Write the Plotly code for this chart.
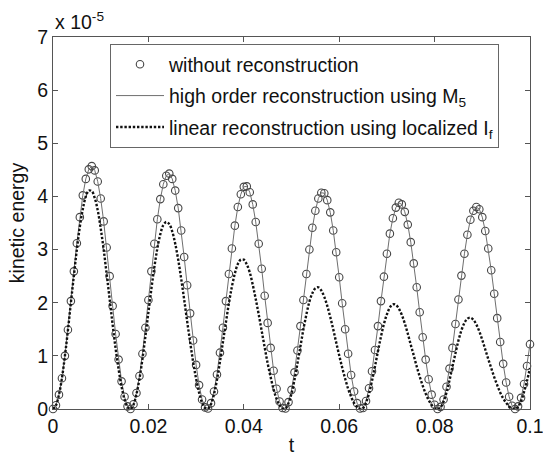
import numpy as np
import plotly.graph_objects as go

# time axis: uniform steps of 6.25e-4 from 0 to 0.1
t = np.linspace(0.0, 0.1, 161)

# kinetic energy in units of 1e-5, without reconstruction (circles)
ke_without = [
    0.00, 0.07, 0.27, 0.58, 1.00, 1.49, 2.03, 2.59, 3.12, 3.61, 4.02, 4.33, 4.51,
    4.57, 4.49, 4.28, 3.96, 3.53, 3.04, 2.50, 1.94, 1.41, 0.93, 0.52, 0.23, 0.05,
    0.00, 0.09, 0.30, 0.62, 1.04, 1.53, 2.05, 2.59, 3.11, 3.57, 3.95, 4.23, 4.39,
    4.43, 4.33, 4.11, 3.78, 3.36, 2.86, 2.33, 1.80, 1.29, 0.83, 0.45, 0.18, 0.03,
    0.01, 0.11, 0.33, 0.65, 1.06, 1.53, 2.03, 2.54, 3.02, 3.45, 3.80, 4.04, 4.18,
    4.19, 4.08, 3.85, 3.52, 3.11, 2.64, 2.13, 1.62, 1.15, 0.72, 0.38, 0.14, 0.02,
    0.01, 0.13, 0.36, 0.69, 1.10, 1.56, 2.05, 2.54, 3.00, 3.41, 3.73, 3.96, 4.07,
    4.06, 3.93, 3.70, 3.36, 2.95, 2.48, 1.99, 1.50, 1.04, 0.64, 0.33, 0.11, 0.01,
    0.02, 0.15, 0.39, 0.71, 1.11, 1.56, 2.03, 2.49, 2.92, 3.30, 3.59, 3.79, 3.88,
    3.85, 3.71, 3.47, 3.14, 2.74, 2.29, 1.82, 1.35, 0.93, 0.56, 0.27, 0.08, 0.00,
    0.04, 0.18, 0.42, 0.76, 1.15, 1.60, 2.06, 2.51, 2.92, 3.28, 3.56, 3.73, 3.80,
    3.76, 3.61, 3.35, 3.02, 2.61, 2.17, 1.71, 1.26, 0.85, 0.50, 0.23, 0.06, 0.00,
    0.05, 0.21, 0.47, 0.81, 1.22,
]

# high order reconstruction with M5: lies on the unreconstructed run at this scale
ke_high_order = list(ke_without)

# linear reconstruction with localized If (units of 1e-5)
ke_linear = [
    0.00, 0.07, 0.27, 0.58, 1.00, 1.48, 2.00, 2.51, 3.00, 3.43, 3.76, 4.00, 4.11,
    4.10, 3.97, 3.74, 3.40, 3.00, 2.54, 2.07, 1.59, 1.14, 0.75, 0.42, 0.18, 0.04,
    0.00, 0.08, 0.28, 0.57, 0.94, 1.37, 1.82, 2.26, 2.67, 3.02, 3.29, 3.46, 3.52,
    3.48, 3.34, 3.11, 2.81, 2.45, 2.06, 1.65, 1.26, 0.89, 0.57, 0.31, 0.12, 0.02,
    0.01, 0.09, 0.28, 0.55, 0.89, 1.26, 1.63, 1.99, 2.30, 2.55, 2.73, 2.81, 2.81,
    2.72, 2.57, 2.34, 2.07, 1.78, 1.47, 1.16, 0.86, 0.60, 0.37, 0.19, 0.07, 0.01,
    0.01, 0.11, 0.29, 0.55, 0.86, 1.18, 1.50, 1.78, 2.02, 2.18, 2.27, 2.29, 2.23,
    2.11, 1.94, 1.73, 1.50, 1.25, 1.01, 0.78, 0.57, 0.38, 0.23, 0.11, 0.04, 0.00,
    0.02, 0.12, 0.29, 0.53, 0.80, 1.09, 1.36, 1.60, 1.78, 1.91, 1.97, 1.96, 1.89,
    1.77, 1.61, 1.42, 1.21, 1.01, 0.80, 0.61, 0.44, 0.29, 0.17, 0.08, 0.02, 0.00,
    0.03, 0.14, 0.31, 0.54, 0.80, 1.05, 1.29, 1.48, 1.62, 1.70, 1.72, 1.68, 1.59,
    1.46, 1.30, 1.12, 0.94, 0.77, 0.60, 0.45, 0.31, 0.20, 0.12, 0.05, 0.01, 0.00,
    0.04, 0.15, 0.32, 0.53, 0.77,
]

x_ticks = [0, 0.02, 0.04, 0.06, 0.08, 0.1]
x_tick_labels = ["0", "0.02", "0.04", "0.06", "0.08", "0.1"]
y_ticks = [0, 1, 2, 3, 4, 5, 6, 7]
y_tick_labels = ["0", "1", "2", "3", "4", "5", "6", "7"]

FONT = "Liberation Sans, Arial, Helvetica, sans-serif"
TEXT = "#111111"
AXIS = "#555555"

fig = go.Figure()

fig.add_trace(go.Scatter(
    x=t, y=ke_without, mode="markers",
    name="without reconstruction", legendgroup="a",
    marker=dict(symbol="circle-open", size=7.5, color="#444444",
                line=dict(width=1.1, color="#444444")),
    cliponaxis=False,
))
fig.add_trace(go.Scatter(
    x=t, y=ke_high_order, mode="lines",
    name="high order reconstruction using M<sub>5</sub>", legendgroup="b",
    line=dict(color="#6e6e6e", width=1),
    cliponaxis=False,
))
fig.add_trace(go.Scatter(
    x=t, y=ke_linear, mode="lines",
    name="linear reconstruction using localized I<sub>f</sub>", legendgroup="c",
    line=dict(color="#111111", width=2.4, dash="2.4px,1.8px", shape="spline"),
    cliponaxis=False,
))

axis_common = dict(
    showline=True, linecolor=AXIS, linewidth=1, mirror="ticks",
    ticks="inside", ticklen=5, tickcolor=AXIS, tickwidth=1,
    showgrid=False, zeroline=False, automargin=False,
    ticklabeloverflow="allow",
    tickfont=dict(family=FONT, size=19.5, color=TEXT),
)

fig.update_layout(
    width=543, height=456,
    margin=dict(l=53, r=13, t=37, b=47),
    paper_bgcolor="white", plot_bgcolor="white",
    font=dict(family=FONT, color=TEXT),
    xaxis=dict(range=[0, 0.1000001], tickvals=x_ticks, ticktext=x_tick_labels,
               title=dict(text="t", font=dict(family=FONT, size=19.5, color=TEXT),
                          standoff=12),
               **axis_common),
    yaxis=dict(range=[0, 7], tickvals=y_ticks, ticktext=y_tick_labels,
               title=dict(text="kinetic energy",
                          font=dict(family=FONT, size=19.5, color=TEXT),
                          standoff=7),
               **axis_common),
    legend=dict(
        x=0.1195, y=0.981, xanchor="left", yanchor="top",
        bgcolor="white", bordercolor="#666666", borderwidth=1,
        font=dict(family=FONT, size=19.5, color=TEXT),
        itemwidth=48, tracegroupgap=3,
    ),
    annotations=[dict(
        text="x 10<sup>-5</sup>", xref="paper", yref="paper",
        x=0.0, y=1.0, xanchor="left", yanchor="bottom", yshift=2,
        showarrow=False, font=dict(family=FONT, size=19.5, color=TEXT),
    )],
)

fig.write_html("out.html")
